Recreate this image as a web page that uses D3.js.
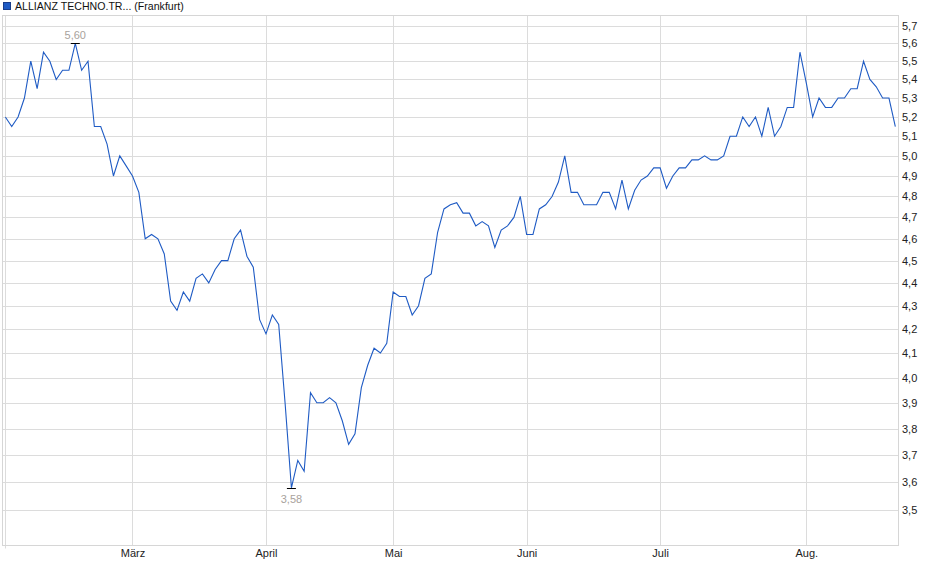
<!DOCTYPE html>
<html>
<head>
<meta charset="utf-8">
<script src="https://cdn.jsdelivr.net/npm/d3@7"></script>
<style>
  body { margin: 0; background: #ffffff; }
  text { font-family: "Liberation Sans", Arial, sans-serif; }
</style>
</head>
<body>
<svg id="chart" width="940" height="579"></svg>
<script>
// Daily closing prices, 3 Feb – 21 Aug (trading days only)
const seriesName = "ALLIANZ TECHNO.TR...";
const exchangeName = "(Frankfurt)";
const prices = [
  5.20, 5.15, 5.20, 5.30, 5.50, 5.35, 5.55, 5.50, 5.40, 5.45,
  5.45, 5.60, 5.45, 5.50, 5.15, 5.15, 5.06, 4.90, 5.00, 4.95,
  4.90, 4.82, 4.60, 4.62, 4.60, 4.53, 4.32, 4.28, 4.36, 4.32,
  4.42, 4.44, 4.40, 4.46, 4.50, 4.50, 4.60, 4.64, 4.52, 4.47,
  4.24, 4.18, 4.26, 4.22, 3.90, 3.58, 3.68, 3.64, 3.94, 3.90,
  3.90, 3.92, 3.90, 3.83, 3.74, 3.78, 3.96, 4.05, 4.12, 4.10,
  4.14, 4.36, 4.34, 4.34, 4.26, 4.30, 4.42, 4.44, 4.63, 4.74,
  4.76, 4.77, 4.72, 4.72, 4.66, 4.68, 4.66, 4.56, 4.64, 4.66,
  4.70, 4.80, 4.62, 4.62, 4.74, 4.76, 4.80, 4.87, 5.00, 4.82,
  4.82, 4.76, 4.76, 4.76, 4.82, 4.82, 4.74, 4.88, 4.74, 4.83,
  4.88, 4.90, 4.94, 4.94, 4.84, 4.90, 4.94, 4.94, 4.98, 4.98,
  5.00, 4.98, 4.98, 5.00, 5.10, 5.10, 5.20, 5.15, 5.20, 5.10,
  5.25, 5.10, 5.15, 5.25, 5.25, 5.55, 5.38, 5.20, 5.30, 5.25,
  5.25, 5.30, 5.30, 5.35, 5.35, 5.50, 5.40, 5.36, 5.30, 5.30,
  5.15
];

// index of the first trading day of each month
const monthStarts = [0, 20, 41, 61, 82, 103, 126];
const monthLabels = ["", "März", "April", "Mai", "Juni", "Juli", "Aug."];
const yTicks = [3.5, 3.6, 3.7, 3.8, 3.9, 4.0, 4.1, 4.2, 4.3, 4.4, 4.5,
                4.6, 4.7, 4.8, 4.9, 5.0, 5.1, 5.2, 5.3, 5.4, 5.5, 5.6, 5.7];

const svg = d3.select("#chart");
const plotLeft = 2.5, plotRight = 898.5, plotTop = 15.5, plotBottom = 545.5;
const gridColor = "#dcdcdc";
const lineColor = "#1f5bc4";
const comma = v => d3.format(".1f")(v).replace(".", ",");

const x = d3.scaleLinear()
  .domain([-0.45, prices.length - 0.5])
  .range([plotLeft, plotRight]);

// log price axis
const y = d3.scaleLog()
  .domain([3.378, 5.759])
  .range([plotBottom, plotTop]);

const crisp = v => Math.round(v) + 0.5;

// grid
svg.append("g")
  .selectAll("line")
  .data(yTicks)
  .enter()
  .append("line")
  .attr("x1", plotLeft)
  .attr("x2", plotRight)
  .attr("y1", d => crisp(y(d)))
  .attr("y2", d => crisp(y(d)))
  .attr("stroke", gridColor);

svg.append("g")
  .selectAll("line")
  .data(monthStarts)
  .enter()
  .append("line")
  .attr("x1", d => crisp(x(d)))
  .attr("x2", d => crisp(x(d)))
  .attr("y1", plotTop)
  .attr("y2", (d, i) => i === 0 ? plotBottom + 3 : plotBottom)
  .attr("stroke", gridColor);

svg.append("rect")
  .attr("x", plotLeft)
  .attr("y", plotTop)
  .attr("width", plotRight - plotLeft)
  .attr("height", plotBottom - plotTop)
  .attr("fill", "none")
  .attr("stroke", "#d6d6d6");

// right axis labels
const yAxis = d3.axisRight(y)
  .tickValues(yTicks)
  .tickFormat(comma)
  .tickSize(0)
  .tickPadding(3.5);

svg.append("g")
  .attr("transform", `translate(${plotRight},0)`)
  .call(yAxis)
  .call(g => g.select(".domain").remove())
  .selectAll("text")
  .attr("font-family", "Liberation Sans, Arial, sans-serif")
  .attr("font-size", "11px")
  .attr("fill", "#222");

// month labels
const xAxis = d3.axisBottom(x)
  .tickValues(monthStarts)
  .tickFormat((d, i) => monthLabels[i])
  .tickSize(0)
  .tickPadding(4);

svg.append("g")
  .attr("transform", `translate(0,${plotBottom})`)
  .call(xAxis)
  .call(g => g.select(".domain").remove())
  .selectAll("text")
  .attr("font-family", "Liberation Sans, Arial, sans-serif")
  .attr("font-size", "11px")
  .attr("fill", "#222");

// price line
const line = d3.line()
  .x((d, i) => x(i))
  .y(d => y(d));

svg.append("path")
  .datum(prices)
  .attr("d", line)
  .attr("fill", "none")
  .attr("stroke", lineColor)
  .attr("stroke-width", 1.1);

// high / low markers
const hi = d3.maxIndex(prices);
const lo = d3.minIndex(prices);
const hiLo = svg.append("g");

[[hi, -1], [lo, 1]].forEach(([i, dir]) => {
  const px = x(i), py = crisp(y(prices[i]));
  hiLo.append("line")
    .attr("x1", px - 4.5)
    .attr("x2", px + 4.5)
    .attr("y1", py)
    .attr("y2", py)
    .attr("stroke", "#000");
  hiLo.append("text")
    .attr("x", px)
    .attr("y", dir < 0 ? py - 4.5 : py + 14)
    .attr("text-anchor", "middle")
    .attr("font-size", "11px")
    .attr("fill", "#a8a29c")
    .text(d3.format(".2f")(prices[i]).replace(".", ","));
});

// legend
svg.append("rect")
  .attr("x", 3.5)
  .attr("y", 2.5)
  .attr("width", 7)
  .attr("height", 7)
  .attr("fill", lineColor)
  .attr("stroke", "#1a3d8a");

svg.append("text")
  .attr("x", 15)
  .attr("y", 10)
  .attr("font-size", "10.6px")
  .attr("fill", "#111")
  .text(`${seriesName} ${exchangeName}`);
</script>
</body>
</html>
